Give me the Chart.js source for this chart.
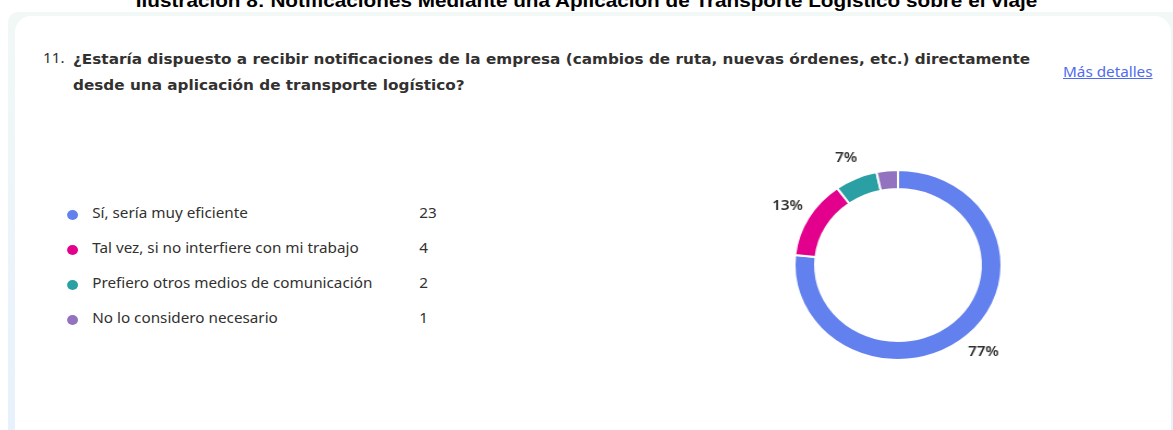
<!DOCTYPE html>
<html>
<head>
<meta charset="utf-8">
<script src="https://cdn.jsdelivr.net/npm/chart.js@4/dist/chart.umd.min.js"></script>
<style>
  html, body { margin: 0; padding: 0; background: #fff; }
  body { width: 1173px; height: 430px; overflow: hidden; position: relative; font-family: "Noto Sans", sans-serif; color: #323130; }
  #heading { position: absolute; left: 0; width: 1173px; top: -10px; text-align: center; font-family: "Liberation Sans", sans-serif; font-weight: bold; font-size: 19px; color: #000; white-space: nowrap; transform: scaleX(1.09); }
  #outer { position: absolute; left: 8px; top: 12px; right: 0; bottom: -20px; background: linear-gradient(#f1f8f6, #e6f1fc); border-radius: 10px 0 0 0; }
  #card { position: absolute; left: 15px; top: 16px; right: 2px; bottom: -20px; background: #fff; border-radius: 16px; }
  .wide { transform-origin: 0 0; transform: scaleX(1.09); }
  #qnum { position: absolute; left: 43px; top: 48px; font-size: 14px; }
  #question { position: absolute; left: 73px; top: 46px; width: 900px; font-family: "DejaVu Sans", sans-serif; font-size: 14px; font-weight: 700; line-height: 26px; }
  #more { position: absolute; left: 1063px; top: 62px; font-size: 14px; color: #4f6bed; text-decoration: underline; }
  #legend { position: absolute; left: 66px; top: 204px; font-size: 14px; }
  .row { position: relative; height: 35px; width: 350px; }
  .dot { position: absolute; left: 1px; top: 6px; width: 10px; height: 10px; border-radius: 50%; }
  .lbl { position: absolute; left: 24px; top: -1px; white-space: nowrap; }
  .cnt { position: absolute; left: 324px; top: -1px; }
  #chartBox { position: absolute; left: 748px; top: 115px; width: 300px; height: 300px; transform: scaleX(1.09); }
</style>
</head>
<body>
<div id="heading">Ilustración 8: Notificaciones Mediante una Aplicación de Transporte Logístico sobre el viaje</div>
<div id="outer"></div>
<div id="card"></div>
<div id="qnum" class="wide">11.</div>
<div id="question" class="wide">¿Estaría dispuesto a recibir notificaciones de la empresa (cambios de ruta, nuevas órdenes, etc.) directamente desde una aplicación de transporte logístico?</div>
<div id="more" class="wide">Más detalles</div>
<div id="legend" class="wide"></div>
<div id="chartBox"><canvas id="donut"></canvas></div>
<script>
// --- Data ---
const categories = [
    'Sí, sería muy eficiente',
    'Tal vez, si no interfiere con mi trabajo',
    'Prefiero otros medios de comunicación',
    'No lo considero necesario'
];
const counts = [23, 4, 2, 1];
const colors = ['#6380ef', '#e3008c', '#2aa0a4', '#9373c0'];

// --- Legend (html, left side like Forms does) ---
const legendEl = document.getElementById('legend');
categories.forEach((name, i) => {
    const row = document.createElement('div');
    row.className = 'row';
    row.innerHTML = `<span class="dot" style="background:${colors[i]}"></span>` +
        `<span class="lbl">${name}</span><span class="cnt">${counts[i]}</span>`;
    legendEl.appendChild(row);
});

// percent labels outside the ring, small slices skipped
const outsideLabels = {
    id: 'outsideLabels',
    afterDatasetsDraw(chart) {
        const ctx = chart.ctx;
        const meta = chart.getDatasetMeta(0);
        const data = chart.data.datasets[0].data;
        const total = data.reduce((a, b) => a + b, 0);
        ctx.save();
        ctx.font = '600 14px "Noto Sans", sans-serif';
        ctx.fillStyle = '#323130';
        ctx.textAlign = 'center';
        ctx.textBaseline = 'middle';
        meta.data.forEach((arc, i) => {
            const share = data[i] / total;
            if (share < 0.05) return;
            const p = arc.getProps(['x', 'y', 'startAngle', 'endAngle', 'outerRadius'], true);
            const mid = (p.startAngle + p.endAngle) / 2;
            const r = p.outerRadius + 22;
            ctx.fillText(Math.round(share * 100) + '%', p.x + Math.cos(mid) * r, p.y + Math.sin(mid) * r);
        });
        ctx.restore();
    }
};

new Chart(document.getElementById('donut'), {
    type: 'doughnut',
    data: {
        labels: categories,
        datasets: [{
            data: counts,
            backgroundColor: colors,
            borderColor: '#fff',
            borderWidth: 2
        }]
    },
    options: {
        responsive: true,
        maintainAspectRatio: false,
        animation: false,
        cutout: '80%',
        layout: { padding: 54 },
        plugins: {
            legend: { display: false },
            tooltip: { enabled: false }
        }
    },
    plugins: [outsideLabels]
});
</script>
</body>
</html>
